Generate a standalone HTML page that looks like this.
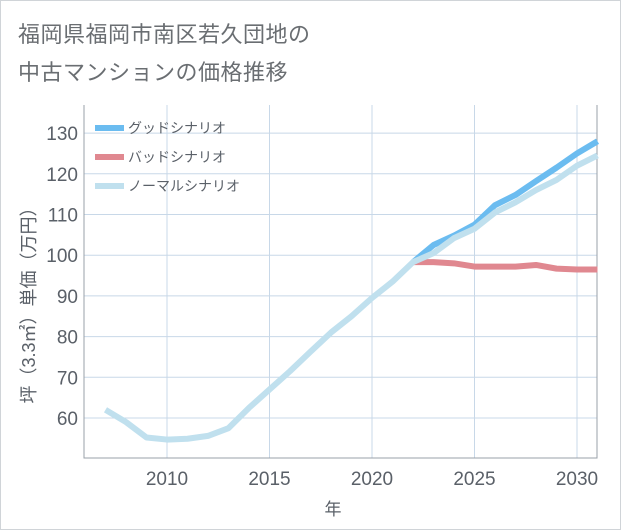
<!DOCTYPE html>
<html><head><meta charset="utf-8"><style>
body{margin:0;background:#fff;}
#wrap{position:relative;width:619px;height:528px;border:1px solid #d0d4d8;background:#fff;overflow:hidden;}
.t{position:absolute;left:17px;font:22px "Liberation Sans","Noto Sans CJK JP",sans-serif;color:#6a6e72;letter-spacing:0.5px;}
svg{position:absolute;left:0;top:0;}
</style></head><body>
<div id="wrap">
<div class="t" style="top:16px">福岡県福岡市南区若久団地の</div>
<div class="t" style="top:54px">中古マンションの価格推移</div>
<svg id="chart" width="621" height="530"></svg>
</div>
<script>
const years=[2007,2008,2009,2010,2011,2012,2013,2014,2015,2016,2017,2018,2019,2020,2021,2022,2023,2024,2025,2026,2027,2028,2029,2030,2031];
const normalVals=[62,59,55.2,54.7,54.9,55.6,57.5,62.5,67,71.5,76.3,81,85,89.5,93.5,98.3,100.5,104.2,106.5,110.5,113,116,118.5,122,124.5];
const goodYears=[2022,2023,2024,2025,2026,2027,2028,2029,2030,2031];
const goodVals=[98.3,102.5,104.8,107.5,112.3,114.8,118.2,121.5,125,128];
const badYears=[2022,2023,2024,2025,2026,2027,2028,2029,2030,2031];
const badVals=[98.3,98.3,98,97.2,97.2,97.2,97.6,96.7,96.5,96.5];
const yTicks=[60,70,80,90,100,110,120,130];
const xTicks=[2010,2015,2020,2025,2030];
const L=83,R=596,T=104,B=457;
const sx=y=>166+(y-2010)*20.5;
const sy=v=>417-(v-60)*4.07;
const NS="http://www.w3.org/2000/svg";
const svg=document.getElementById('chart');
function mk(tag,attrs){const e=document.createElementNS(NS,tag);for(const k in attrs)e.setAttribute(k,attrs[k]);svg.appendChild(e);return e;}
const F='"Liberation Sans","Noto Sans CJK JP",sans-serif';
yTicks.forEach(v=>{
 const g=mk('line',{x1:L,x2:R,y1:sy(v),y2:sy(v),stroke:'#c8d8e8','stroke-width':1});
 
 
 const t=mk('text',{x:L-6,y:sy(v)+7,'text-anchor':'end','font-size':19,fill:'#5a6068','font-family':F});
 t.textContent=v;
 
 
});
xTicks.forEach(v=>{
 const g=mk('line',{x1:sx(v),x2:sx(v),y1:T,y2:B,stroke:'#c8d8e8','stroke-width':1});
 
 
 const t=mk('text',{x:sx(v),y:B+27,'text-anchor':'middle','font-size':19,fill:'#5a6068','font-family':F});
 t.textContent=v;
 
 
});
const ax=mk('path',{d:`M${L},${T}V${B}H${R}V${T}`,fill:'none',stroke:'#9aa0a8','stroke-width':1});


function line(xs,vs,color,name){
 const p=mk('polyline',{points:xs.map((x,i)=>sx(x)+','+sy(vs[i])).join(' '),fill:'none',stroke:color,'stroke-width':6,'stroke-linejoin':'round'});
 
 
}
line(goodYears,goodVals,'#6bbcf0','good-scenario-line');
line(badYears,badVals,'#e08890','bad-scenario-line');
line(years,normalVals,'#c0e0ee','normal-scenario-line');
const leg=[['グッドシナリオ','#6bbcf0'],['バッドシナリオ','#e08890'],['ノーマルシナリオ','#c0e0ee']];
leg.forEach((l,i)=>{
 const y=127+i*29;
 const s=mk('rect',{x:94,y:y-3,width:29,height:6,fill:l[1]});
 
 
 const t=mk('text',{x:127,y:y+5,'font-size':14,fill:'#5a6068','font-family':F});
 t.textContent=l[0];
 
 
});
const xt=mk('text',{x:332,y:514,'text-anchor':'middle','font-size':17,fill:'#5a6068','font-family':F});
xt.textContent='年';


const yt=mk('text',{x:0,y:0,'text-anchor':'middle','font-size':18,fill:'#5a6068','font-family':F,transform:'translate(34,300) rotate(-90)'});
yt.textContent='坪（3.3㎡）単価（万円）';


</script>
</body></html>
